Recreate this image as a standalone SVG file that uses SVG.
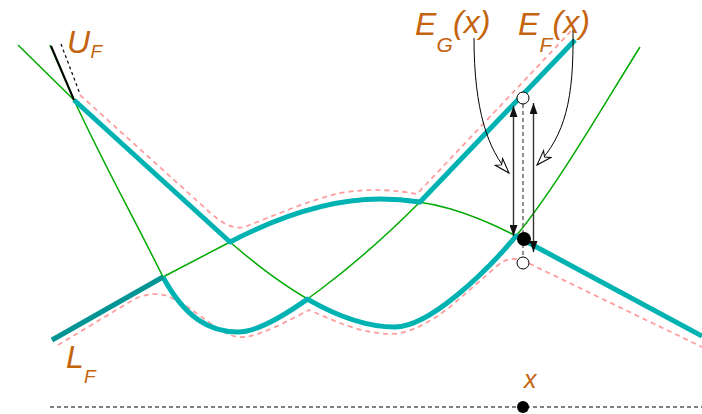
<svg xmlns="http://www.w3.org/2000/svg" width="702" height="414" viewBox="0 0 702 414">
<style>
.g{fill:none;stroke:#00aa00;stroke-width:1.5}
.c{fill:none;stroke:#00b2b2;stroke-width:5;stroke-linejoin:round}
.p{fill:none;stroke:#ff9e9e;stroke-width:1.8;stroke-dasharray:5 4}
.lab{fill:#c4640e;font-family:"Liberation Sans",Arial,sans-serif;font-style:italic}
.v{stroke:#333;stroke-width:1.4;fill:none}
.ca{stroke:#000;stroke-width:1;fill:none}
</style>
<defs>
<marker id="tri" viewBox="0 0 11 8" refX="11" refY="4" markerWidth="11" markerHeight="8" markerUnits="userSpaceOnUse" orient="auto-start-reverse">
<path d="M0,0 L11,4 L0,8 z" fill="#111"/>
</marker>
<marker id="open" viewBox="-1 -1 17 12" refX="15" refY="5" markerWidth="17" markerHeight="12" markerUnits="userSpaceOnUse" orient="auto">
<path d="M0,0 L15,5 L0,10 L4,5 z" fill="#fff" stroke="#000" stroke-width="1"/>
</marker>
</defs>
<rect width="702" height="414" fill="#fff"/>

<g id="offsets">
<path class="p" d="M80,95 L205,208 C222,224 234,231 247,226 C275,215 310,200 340,193 C370,188 395,190 417,194 L572,30"/>
<path class="p" d="M58,345 L133,300 C145,293 160,292 172,298 C190,307 205,320 217,328 C228,335 236,338 245,337 C262,335 290,320 309,310 C325,316 355,333 390,334 C410,334 430,322 450,307 L497,266 C505,259 512,257 524,261 L702,347"/>
<path d="M61,44 L80,94" fill="none" stroke="#000" stroke-width="1.2" stroke-dasharray="3 3"/>
</g>

<g id="curves">
<path class="g" d="M18,45 L74,100 L230,242 C280,285.5 340,327 395,327 C430,327 488,270 516,236 C556,187.5 600,111 640,47"/>
<path class="g" d="M50,45 L74,100 C104,165 135,220 163,277 C185,318 210,332 238,332 C275,332 360,262 420,202 L575,40"/>
<path class="g" d="M52,340 L163,277 L230,242 C280,216 330,199 380,199 C430,199 471,212.6 516,236 L702,336"/>
</g>

<g id="envelopes">
<path class="c" d="M74,100 L230,242 C280,216 330,199 380,199 C394,199 407.3,200.1 420,202 L575,40"/>
<path class="c" d="M163,277 C185,318 210,332 238,332 C254.1,332 279.3,319 307.4,299.1 C336.4,315.8 366.4,327 395,327 C430,327 488,270 516,236 L702,336"/>
<path d="M52,340 L163,277" fill="none" stroke="#009494" stroke-width="5"/>
<path d="M51,46 L74,100" fill="none" stroke="#000" stroke-width="2"/>
</g>

<g id="connectors">
<line class="v" x1="513.5" y1="106" x2="513.5" y2="236" marker-start="url(#tri)" marker-end="url(#tri)"/>
<line class="v" x1="533.5" y1="103" x2="533.5" y2="252" marker-start="url(#tri)" marker-end="url(#tri)"/>
<line x1="523" y1="104" x2="523" y2="257" stroke="#555" stroke-width="1.3" stroke-dasharray="4 3"/>
<path class="ca" d="M474,38 C474,110 488,150 509,173" marker-end="url(#open)"/>
<path class="ca" d="M573,30 C574,100 565,135 537,165" marker-end="url(#open)"/>
<line x1="50" y1="407" x2="702" y2="407" stroke="#000" stroke-width="1" stroke-dasharray="4 3"/>
</g>

<g id="point-top"><circle cx="523" cy="98" r="6" fill="#fff" stroke="#000" stroke-width="1"/></g>
<g id="point-mid"><circle cx="524" cy="239" r="7" fill="#000"/></g>
<g id="point-low"><circle cx="523" cy="263" r="6" fill="#fff" stroke="#000" stroke-width="1"/></g>
<g id="point-x"><circle cx="523" cy="407" r="6" fill="#000"/></g>

<g id="label-UF"><text class="lab" x="67" y="53" font-size="32">U</text><text class="lab" x="90.5" y="58" font-size="19">F</text></g>
<g id="label-LF"><text class="lab" x="66" y="368" font-size="32">L</text><text class="lab" x="84" y="383" font-size="19">F</text></g>
<g id="label-EG"><text class="lab" x="415" y="35" font-size="32">E</text><text class="lab" x="436.5" y="52" font-size="21">G</text><text class="lab" x="453" y="33" font-size="32">(x)</text></g>
<g id="label-EF"><text class="lab" x="518" y="35" font-size="32">E</text><text class="lab" x="539.5" y="52" font-size="21">F</text><text class="lab" x="552.5" y="33" font-size="32">(x)</text></g>
<g id="label-x"><text class="lab" x="524" y="388" font-size="25">x</text></g>
</svg>
